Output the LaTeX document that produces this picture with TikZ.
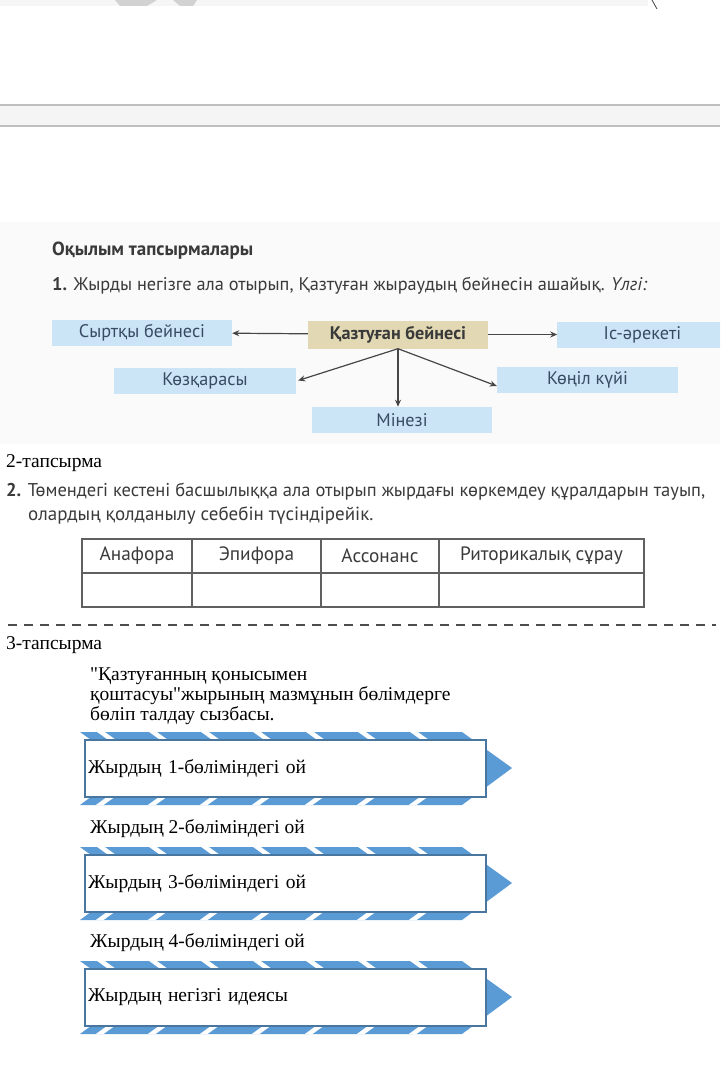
\documentclass[tikz,border=0pt]{standalone}
\usepackage{fontspec}
\setmainfont{Liberation Serif}
\newfontfamily\bookfont{PT Sans}
\definecolor{BookInk}{RGB}{58,58,58}
\definecolor{BoxInk}{RGB}{55,75,98}
\definecolor{BoxBlue}{RGB}{204,229,246}
\definecolor{BoxTan}{RGB}{226,217,180}
\definecolor{ArrGray}{RGB}{70,70,70}
\definecolor{ChevBlue}{RGB}{91,155,213}
\definecolor{ChevEdge}{RGB}{72,118,158}
\usetikzlibrary{positioning,arrows.meta}

\begin{document}
\begin{tikzpicture}[x=1pt, y=-1pt, >=Stealth, node distance=20pt]
\tikzstyle{booktxt}=[anchor=west, inner sep=0pt, text=BookInk, font=\bookfont\fontsize{18.3}{20}\selectfont]
\tikzstyle{blueblk}=[fill=BoxBlue, text=BoxInk, minimum width=180pt, minimum height=26pt, inner sep=0pt, font=\bookfont\fontsize{18.2}{20}\selectfont]
\tikzstyle{tanblk}=[blueblk, fill=BoxTan, minimum height=28pt, text=BookInk, font=\bookfont\bfseries\fontsize{18.2}{20}\selectfont]
\tikzstyle{arr}=[-{Stealth[length=7pt, width=6pt]}, line width=1.2pt, draw=ArrGray]
\tikzstyle{serif}=[anchor=west, inner sep=0pt, font=\rmfamily\fontsize{19.5}{20}\selectfont]
\tikzstyle{cell}=[inner sep=0pt, text=BookInk, font=\bookfont\fontsize{19.3}{20}\selectfont]
\tikzstyle{chevbox}=[draw=ChevEdge, line width=1.6pt, fill=white, minimum width=401pt, minimum height=57pt, text width=395pt, align=left, inner xsep=3pt, font=\rmfamily\fontsize{19.5}{22}\selectfont]

\clip (0,0) rectangle (720,1070);
\fill[white] (0,0) rectangle (720,1070);

% cut-off screenshot at the top
\fill[gray!7] (0,0) rectangle (648,6);
\fill[gray!35] (115,0) -- (157,0) -- (147,6) -- (120,6) -- cycle;
\fill[gray!35] (173,0) -- (197,0) -- (193,6) -- (180,6) -- cycle;
\draw[ArrGray, line width=0.8pt] (652,0) -- (657,9);
\fill[gray!8] (0,105) rectangle (720,126);
\draw[gray!50, line width=2pt] (0,105) -- (720,105);
\draw[gray!50, line width=2pt] (0,126) -- (720,126);

% task 1
\fill[gray!4] (0,222) rectangle (720,444);
\node[booktxt, font=\bookfont\bfseries\fontsize{19}{20}\selectfont] (head) at (52,251) {Оқылым тапсырмалары};
\node[booktxt] (task1) at (52,286) {\textbf{1.} Жырды негізге ала отырып, Қазтуған жыраудың бейнесін ашайық. \textit{Үлгі:}};

\node[tanblk] (kaz) at (398,334.5) {Қазтуған бейнесі};
\node[blueblk] (syr) at (142,332.5) {Сыртқы бейнесі};
\node[blueblk, right=69pt of kaz, minimum width=170pt] (is) {Іс-әрекеті};
\node[blueblk, minimum width=182pt] (koz) at (205,380.5) {Көзқарасы};
\node[blueblk, minimum width=181pt] (kon) at (587.5,380) {Көңіл күйі};
\node[blueblk, below=58pt of kaz, xshift=4pt] (min) {Мінезі};

\draw[arr] (kaz) -- (syr);
\draw[arr] (kaz) -- (is);
\draw[arr] (kaz.south) -- ([xshift=2pt]koz.east);
\draw[arr] (kaz.south) -- ([yshift=-6pt]kon.west);
\draw[arr] (kaz.south) -- (kaz.south |- min.north);

% task 2
\node[serif] (t2) at (6,463) {2-тапсырма};
\node[booktxt, font=\bookfont\fontsize{18.5}{20}\selectfont] (task2) at (6,492) {\textbf{2.} Төмендегі кестені басшылыққа ала отырып жырдағы көркемдеу құралдарын тауып,};
\node[booktxt, font=\bookfont\fontsize{19}{20}\selectfont] (task2b) at (28,516) {олардың қолданылу себебін түсіндірейік.};

\draw[gray!75!black, line width=1.3pt] (82,539) rectangle (644,607);
\draw[gray!75!black, line width=1.3pt] (82,573) -- (644,573);
\foreach \xc in {192,321,439}
  \draw[gray!75!black, line width=1.3pt] (\xc,539) -- (\xc,607);
\node[cell] (c1) at (137,556) {Анафора};
\node[cell] (c2) at (256.5,556) {Эпифора};
\node[cell] (c3) at (380,556) {Ассонанс};
\node[cell] (c4) at (541.5,556) {Риторикалық сұрау};
\draw[gray!60!black, line width=2pt, dash pattern=on 9pt off 7pt] (8,625) -- (716,625);

% task 3
\node[serif] (t3) at (6,645) {3-тапсырма};
\node[serif, anchor=north west, align=left, font=\rmfamily\fontsize{19.5}{20}\selectfont] (title) at (90,668)
  {\textquotedbl Қазтуғанның қонысымен\\қоштасуы\textquotedbl жырының мазмұнын бөлімдерге\\бөліп талдау сызбасы.};

\foreach \yc/\txt [count=\i] in {768/Жырдың 1-бөліміндегі ой, 883/Жырдың 3-бөліміндегі ой, 997/Жырдың негізгі идеясы}{
  \begin{scope}
    \clip (80,\yc-36) -- (462,\yc-36) -- (512,\yc) -- (462,\yc+37) -- (80,\yc+37) -- (130,\yc) -- cycle;
    \fill[ChevBlue] (60,\yc-40) rectangle (520,\yc+40);
    \foreach \xt in {101,153,205,257,310,362,414}
      \draw[white, line width=4.5pt] (\xt-5.5,\yc-40) -- (\xt+50,\yc) -- (\xt-5.5,\yc+40);
  \end{scope}
  \node[chevbox] (part\i) at (285.5,\yc+0.5) {\txt};
}
\node[serif] (lab2) at (90,829) {Жырдың 2-бөліміндегі ой};
\node[serif] (lab4) at (90,943) {Жырдың 4-бөліміндегі ой};
\end{tikzpicture}
\end{document}
